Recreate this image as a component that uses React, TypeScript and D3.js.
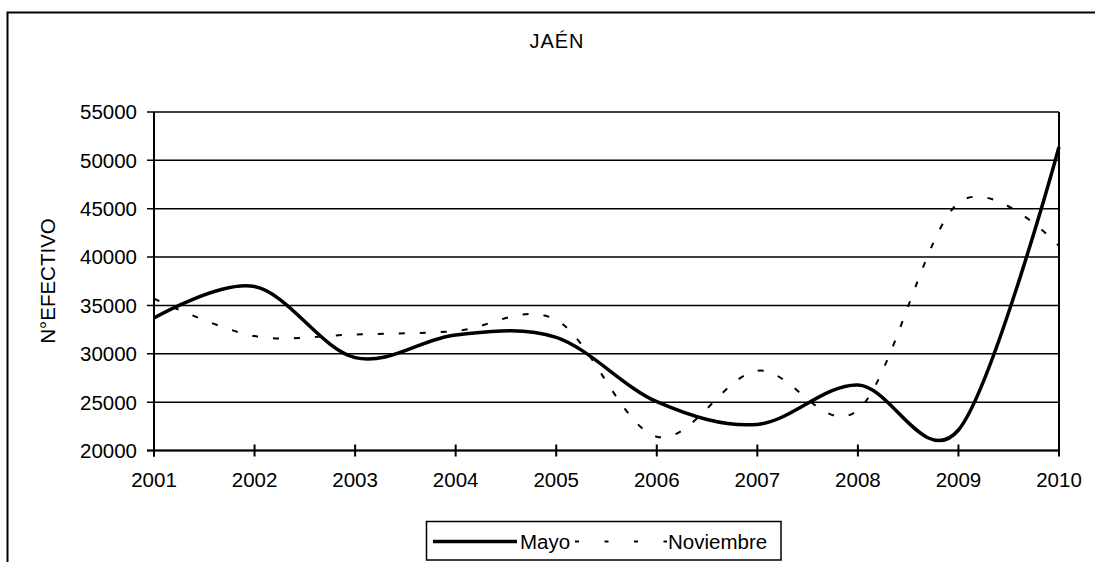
import React from "react";
import * as d3 from "d3";

const years = [2001, 2002, 2003, 2004, 2005, 2006, 2007, 2008, 2009, 2010];
const mayo = [33700, 36950, 29600, 31950, 31700, 25050, 22700, 26770, 22120, 51380];
const noviembre = [35700, 31830, 32000, 32350, 33500, 21430, 28240, 24180, 45600, 41160];
const yTicks = [20000, 25000, 30000, 35000, 40000, 45000, 50000, 55000];
const title = "JAÉN";
const yTitle = "N°EFECTIVO";
const seriesNames = ["Mayo", "Noviembre"];

const W = 1095;
const H = 562;
const FONT = "'Liberation Sans', Arial, sans-serif";

export default function App() {
  const x = d3.scaleLinear().domain([2001, 2010]).range([154, 1059]);
  const y = d3.scaleLinear().domain([20000, 55000]).range([450.5, 112]);
  const line = d3
    .line<number>()
    .x((_, i) => x(years[i]))
    .y((d) => y(d))
    .curve(d3.curveCardinal.tension(0));

  return (
    <svg
      width={W}
      height={H}
      style={{ position: "absolute", left: 0, top: 0, display: "block", background: "#fff" }}
      fontFamily={FONT}
    >
      <rect x={7.5} y={12.5} width={1200} height={700} fill="#fff" stroke="#000" strokeWidth={2} />
      <text x={557} y={48} fontSize={20} textAnchor="middle" letterSpacing={1}>
        {title}
      </text>
      {/* gridlines and y ticks */}
      {yTicks.map((t) => (
        <g key={t}>
          <line x1={147} x2={1059} y1={y(t)} y2={y(t)} stroke="#000" strokeWidth={1.5} />
          <text x={137} y={y(t)} dy="0.36em" fontSize={20.5} textAnchor="end">
            {t}
          </text>
        </g>
      ))}
      {/* right border */}
      <line x1={1059} x2={1059} y1={y(55000)} y2={y(20000)} stroke="#000" strokeWidth={2} />
      {/* axes */}
      <line x1={154} x2={154} y1={y(55000)} y2={y(20000) + 6} stroke="#000" strokeWidth={2} />
      <line x1={147} x2={1059} y1={y(20000)} y2={y(20000)} stroke="#000" strokeWidth={2} />
      {years.map((yr) => (
        <g key={yr}>
          <line x1={x(yr)} x2={x(yr)} y1={y(20000) - 6} y2={y(20000) + 6} stroke="#000" strokeWidth={2} />
          <text x={x(yr)} y={487} fontSize={20.5} textAnchor="middle">
            {yr}
          </text>
        </g>
      ))}
      <text
        transform={`translate(47,281) rotate(-90)`}
        fontSize={20.5}
        textAnchor="middle"
        dominantBaseline="central"
      >
        {yTitle}
      </text>
      {/* series */}
      <path d={line(noviembre) || ""} fill="none" stroke="#000" strokeWidth={2} strokeDasharray="6 15" />
      <path d={line(mayo) || ""} fill="none" stroke="#000" strokeWidth={3.5} strokeLinejoin="round" />
      {/* legend */}
      <rect x={426.5} y={521.5} width={354.5} height={38.5} fill="#fff" stroke="#000" strokeWidth={1.5} />
      <line x1={433} x2={517} y1={541.5} y2={541.5} stroke="#000" strokeWidth={3.5} />
      <text x={520} y={548.5} fontSize={20.5}>
        {seriesNames[0]}
      </text>
      <line x1={575} x2={667} y1={541.5} y2={541.5} stroke="#000" strokeWidth={2} strokeDasharray="4 25.5" />
      <text x={668} y={548.5} fontSize={20.5}>
        {seriesNames[1]}
      </text>
    </svg>
  );
}
